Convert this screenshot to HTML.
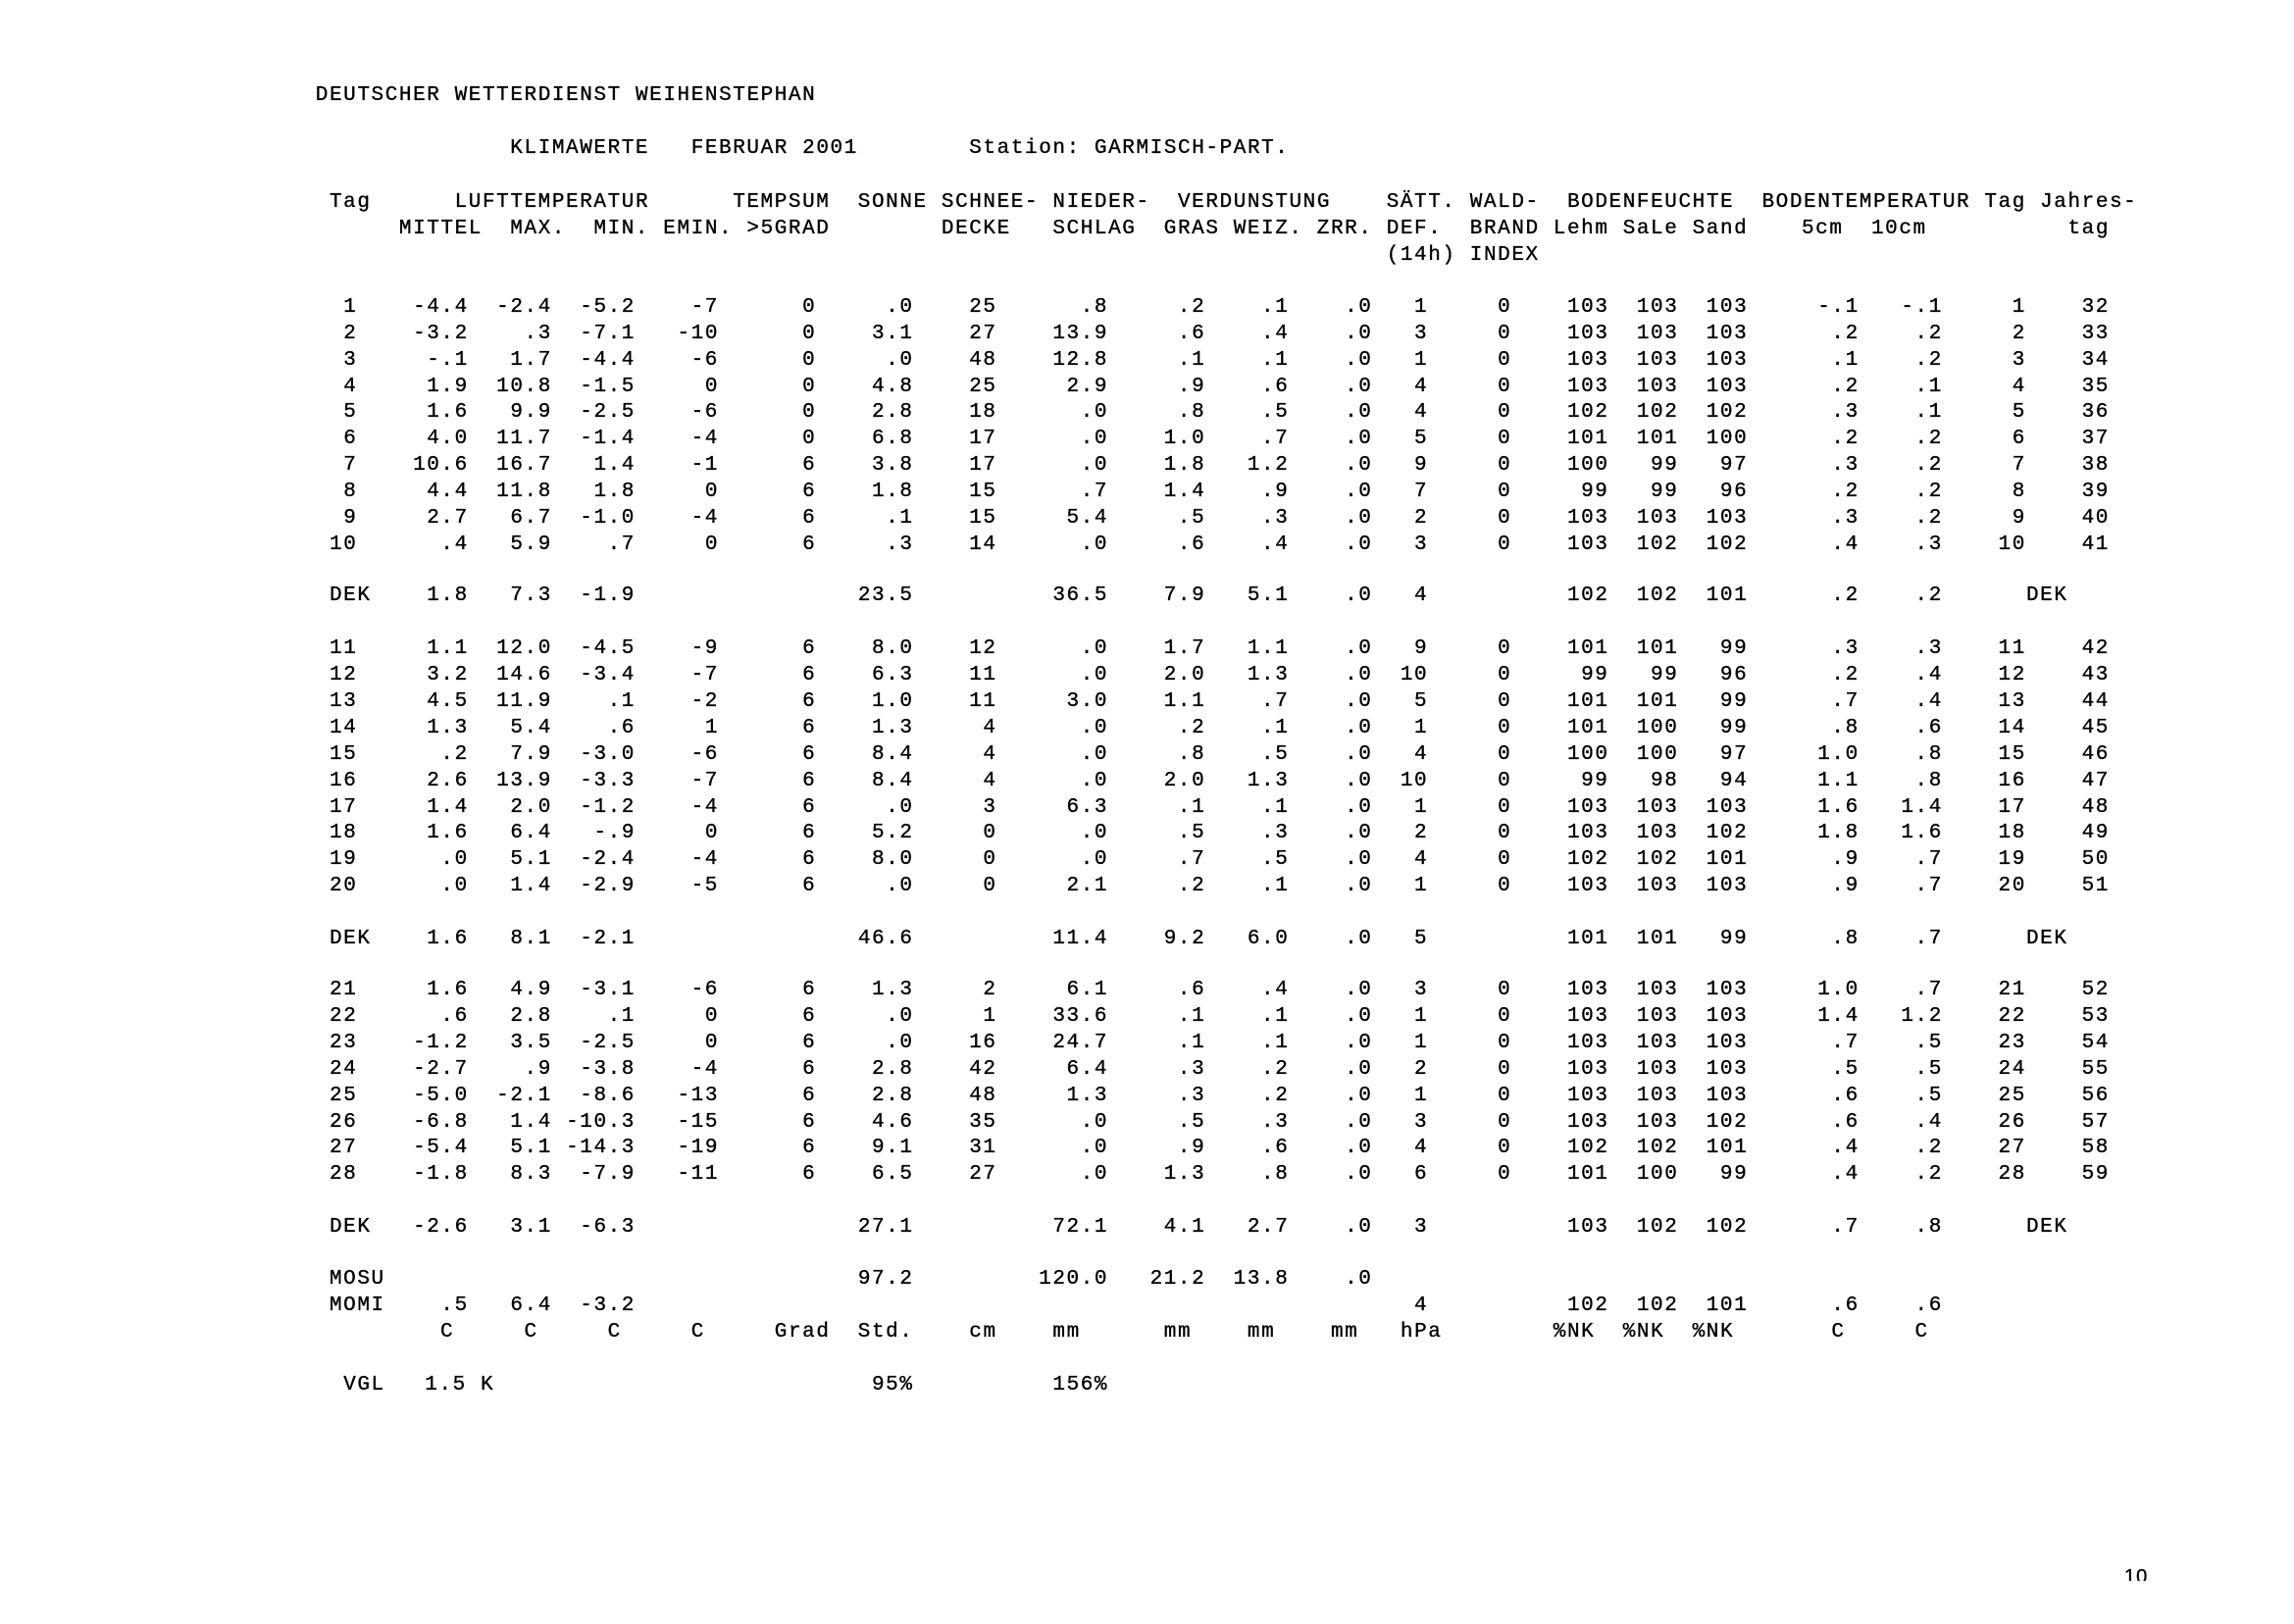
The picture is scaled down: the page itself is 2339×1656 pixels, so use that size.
<!DOCTYPE html>
<html><head><meta charset="utf-8"><style>
html,body{margin:0;padding:0;background:#fff}
#p{position:relative;width:2339px;height:1656px;overflow:hidden;background:#fff;color:#000;font-family:"Liberation Mono","DejaVu Sans Mono",monospace;font-size:21px;letter-spacing:1.58px;-webkit-text-stroke:0.35px #000}
.r{position:absolute;left:0;width:2339px;height:27px;line-height:27px}
.r span{position:absolute;top:0;white-space:pre;transform:translateX(-100%)}
.r span.s{transform:none}
.a{left:364.4px}.b{left:477.8px}.c{left:562.9px}.d{left:648px}.e{left:733px}.f{left:832.3px}.g{left:931.6px}.h{left:1016.6px}.i{left:1130.1px}.j{left:1229.3px}.k{left:1314.4px}.l{left:1399.5px}.m{left:1456.2px}.n{left:1541.3px}.o{left:1640.5px}.p{left:1711.4px}.q{left:1782.3px}.rr{left:1895.8px}.t{left:1980.9px}.u{left:2065.9px}.v{left:2151px}
</style></head><body><div id="p">
<div class="r" style="top:84px"><span class="s" style="left:321.8px">DEUTSCHER WETTERDIENST WEIHENSTEPHAN</span></div>
<div class="r" style="top:138px"><span class="s" style="left:520.3px">KLIMAWERTE</span><span class="s" style="left:704.7px">FEBRUAR 2001</span><span class="s" style="left:988.3px">Station: GARMISCH-PART.</span></div>
<div class="r" style="top:193px"><span class="s" style="left:336px">Tag</span><span class="s" style="left:463.6px">LUFTTEMPERATUR</span><span class="s" style="left:747.2px">TEMPSUM</span><span class="s" style="left:874.8px">SONNE</span><span class="s" style="left:959.9px">SCHNEE-</span><span class="s" style="left:1073.4px">NIEDER-</span><span class="s" style="left:1201px">VERDUNSTUNG</span><span class="s" style="left:1413.7px">SÄTT.</span><span class="s" style="left:1498.8px">WALD-</span><span class="s" style="left:1598px">BODENFEUCHTE</span><span class="s" style="left:1796.5px">BODENTEMPERATUR</span><span class="s" style="left:2023.4px">Tag</span><span class="s" style="left:2080.1px">Jahres-</span></div>
<div class="r" style="top:220px"><span class="s" style="left:406.9px">MITTEL</span><span class="s" style="left:520.3px">MAX.</span><span class="s" style="left:605.4px">MIN.</span><span class="s" style="left:676.3px">EMIN.</span><span class="s" style="left:761.4px">&gt;5GRAD</span><span class="s" style="left:959.9px">DECKE</span><span class="s" style="left:1073.4px">SCHLAG</span><span class="s" style="left:1186.8px">GRAS</span><span class="s" style="left:1257.7px">WEIZ.</span><span class="s" style="left:1342.8px">ZRR.</span><span class="s" style="left:1413.7px">DEF.</span><span class="s" style="left:1498.8px">BRAND</span><span class="s" style="left:1583.8px">Lehm</span><span class="s" style="left:1654.7px">SaLe</span><span class="s" style="left:1725.6px">Sand</span><span class="s" style="left:1837px">5cm</span><span class="s" style="left:1908px">10cm</span><span class="s" style="left:2108.5px">tag</span></div>
<div class="r" style="top:247px"><span class="s" style="left:1413.7px">(14h)</span><span class="s" style="left:1498.8px">INDEX</span></div>

<div class="r" style="top:300px"><span class="a">1</span><span class="b">-4.4</span><span class="c">-2.4</span><span class="d">-5.2</span><span class="e">-7</span><span class="f">0</span><span class="g">.0</span><span class="h">25</span><span class="i">.8</span><span class="j">.2</span><span class="k">.1</span><span class="l">.0</span><span class="m">1</span><span class="n">0</span><span class="o">103</span><span class="p">103</span><span class="q">103</span><span class="rr">-.1</span><span class="t">-.1</span><span class="u">1</span><span class="v">32</span></div>
<div class="r" style="top:327px"><span class="a">2</span><span class="b">-3.2</span><span class="c">.3</span><span class="d">-7.1</span><span class="e">-10</span><span class="f">0</span><span class="g">3.1</span><span class="h">27</span><span class="i">13.9</span><span class="j">.6</span><span class="k">.4</span><span class="l">.0</span><span class="m">3</span><span class="n">0</span><span class="o">103</span><span class="p">103</span><span class="q">103</span><span class="rr">.2</span><span class="t">.2</span><span class="u">2</span><span class="v">33</span></div>
<div class="r" style="top:354px"><span class="a">3</span><span class="b">-.1</span><span class="c">1.7</span><span class="d">-4.4</span><span class="e">-6</span><span class="f">0</span><span class="g">.0</span><span class="h">48</span><span class="i">12.8</span><span class="j">.1</span><span class="k">.1</span><span class="l">.0</span><span class="m">1</span><span class="n">0</span><span class="o">103</span><span class="p">103</span><span class="q">103</span><span class="rr">.1</span><span class="t">.2</span><span class="u">3</span><span class="v">34</span></div>
<div class="r" style="top:381px"><span class="a">4</span><span class="b">1.9</span><span class="c">10.8</span><span class="d">-1.5</span><span class="e">0</span><span class="f">0</span><span class="g">4.8</span><span class="h">25</span><span class="i">2.9</span><span class="j">.9</span><span class="k">.6</span><span class="l">.0</span><span class="m">4</span><span class="n">0</span><span class="o">103</span><span class="p">103</span><span class="q">103</span><span class="rr">.2</span><span class="t">.1</span><span class="u">4</span><span class="v">35</span></div>
<div class="r" style="top:407px"><span class="a">5</span><span class="b">1.6</span><span class="c">9.9</span><span class="d">-2.5</span><span class="e">-6</span><span class="f">0</span><span class="g">2.8</span><span class="h">18</span><span class="i">.0</span><span class="j">.8</span><span class="k">.5</span><span class="l">.0</span><span class="m">4</span><span class="n">0</span><span class="o">102</span><span class="p">102</span><span class="q">102</span><span class="rr">.3</span><span class="t">.1</span><span class="u">5</span><span class="v">36</span></div>
<div class="r" style="top:434px"><span class="a">6</span><span class="b">4.0</span><span class="c">11.7</span><span class="d">-1.4</span><span class="e">-4</span><span class="f">0</span><span class="g">6.8</span><span class="h">17</span><span class="i">.0</span><span class="j">1.0</span><span class="k">.7</span><span class="l">.0</span><span class="m">5</span><span class="n">0</span><span class="o">101</span><span class="p">101</span><span class="q">100</span><span class="rr">.2</span><span class="t">.2</span><span class="u">6</span><span class="v">37</span></div>
<div class="r" style="top:461px"><span class="a">7</span><span class="b">10.6</span><span class="c">16.7</span><span class="d">1.4</span><span class="e">-1</span><span class="f">6</span><span class="g">3.8</span><span class="h">17</span><span class="i">.0</span><span class="j">1.8</span><span class="k">1.2</span><span class="l">.0</span><span class="m">9</span><span class="n">0</span><span class="o">100</span><span class="p">99</span><span class="q">97</span><span class="rr">.3</span><span class="t">.2</span><span class="u">7</span><span class="v">38</span></div>
<div class="r" style="top:488px"><span class="a">8</span><span class="b">4.4</span><span class="c">11.8</span><span class="d">1.8</span><span class="e">0</span><span class="f">6</span><span class="g">1.8</span><span class="h">15</span><span class="i">.7</span><span class="j">1.4</span><span class="k">.9</span><span class="l">.0</span><span class="m">7</span><span class="n">0</span><span class="o">99</span><span class="p">99</span><span class="q">96</span><span class="rr">.2</span><span class="t">.2</span><span class="u">8</span><span class="v">39</span></div>
<div class="r" style="top:515px"><span class="a">9</span><span class="b">2.7</span><span class="c">6.7</span><span class="d">-1.0</span><span class="e">-4</span><span class="f">6</span><span class="g">.1</span><span class="h">15</span><span class="i">5.4</span><span class="j">.5</span><span class="k">.3</span><span class="l">.0</span><span class="m">2</span><span class="n">0</span><span class="o">103</span><span class="p">103</span><span class="q">103</span><span class="rr">.3</span><span class="t">.2</span><span class="u">9</span><span class="v">40</span></div>
<div class="r" style="top:542px"><span class="a">10</span><span class="b">.4</span><span class="c">5.9</span><span class="d">.7</span><span class="e">0</span><span class="f">6</span><span class="g">.3</span><span class="h">14</span><span class="i">.0</span><span class="j">.6</span><span class="k">.4</span><span class="l">.0</span><span class="m">3</span><span class="n">0</span><span class="o">103</span><span class="p">102</span><span class="q">102</span><span class="rr">.4</span><span class="t">.3</span><span class="u">10</span><span class="v">41</span></div>
<div class="r" style="top:594px"><span class="s" style="left:336px">DEK</span><span class="b">1.8</span><span class="c">7.3</span><span class="d">-1.9</span><span class="g">23.5</span><span class="i">36.5</span><span class="j">7.9</span><span class="k">5.1</span><span class="l">.0</span><span class="m">4</span><span class="o">102</span><span class="p">102</span><span class="q">101</span><span class="rr">.2</span><span class="t">.2</span><span class="s" style="left:2066px">DEK</span></div>

<div class="r" style="top:648px"><span class="a">11</span><span class="b">1.1</span><span class="c">12.0</span><span class="d">-4.5</span><span class="e">-9</span><span class="f">6</span><span class="g">8.0</span><span class="h">12</span><span class="i">.0</span><span class="j">1.7</span><span class="k">1.1</span><span class="l">.0</span><span class="m">9</span><span class="n">0</span><span class="o">101</span><span class="p">101</span><span class="q">99</span><span class="rr">.3</span><span class="t">.3</span><span class="u">11</span><span class="v">42</span></div>
<div class="r" style="top:675px"><span class="a">12</span><span class="b">3.2</span><span class="c">14.6</span><span class="d">-3.4</span><span class="e">-7</span><span class="f">6</span><span class="g">6.3</span><span class="h">11</span><span class="i">.0</span><span class="j">2.0</span><span class="k">1.3</span><span class="l">.0</span><span class="m">10</span><span class="n">0</span><span class="o">99</span><span class="p">99</span><span class="q">96</span><span class="rr">.2</span><span class="t">.4</span><span class="u">12</span><span class="v">43</span></div>
<div class="r" style="top:702px"><span class="a">13</span><span class="b">4.5</span><span class="c">11.9</span><span class="d">.1</span><span class="e">-2</span><span class="f">6</span><span class="g">1.0</span><span class="h">11</span><span class="i">3.0</span><span class="j">1.1</span><span class="k">.7</span><span class="l">.0</span><span class="m">5</span><span class="n">0</span><span class="o">101</span><span class="p">101</span><span class="q">99</span><span class="rr">.7</span><span class="t">.4</span><span class="u">13</span><span class="v">44</span></div>
<div class="r" style="top:729px"><span class="a">14</span><span class="b">1.3</span><span class="c">5.4</span><span class="d">.6</span><span class="e">1</span><span class="f">6</span><span class="g">1.3</span><span class="h">4</span><span class="i">.0</span><span class="j">.2</span><span class="k">.1</span><span class="l">.0</span><span class="m">1</span><span class="n">0</span><span class="o">101</span><span class="p">100</span><span class="q">99</span><span class="rr">.8</span><span class="t">.6</span><span class="u">14</span><span class="v">45</span></div>
<div class="r" style="top:756px"><span class="a">15</span><span class="b">.2</span><span class="c">7.9</span><span class="d">-3.0</span><span class="e">-6</span><span class="f">6</span><span class="g">8.4</span><span class="h">4</span><span class="i">.0</span><span class="j">.8</span><span class="k">.5</span><span class="l">.0</span><span class="m">4</span><span class="n">0</span><span class="o">100</span><span class="p">100</span><span class="q">97</span><span class="rr">1.0</span><span class="t">.8</span><span class="u">15</span><span class="v">46</span></div>
<div class="r" style="top:783px"><span class="a">16</span><span class="b">2.6</span><span class="c">13.9</span><span class="d">-3.3</span><span class="e">-7</span><span class="f">6</span><span class="g">8.4</span><span class="h">4</span><span class="i">.0</span><span class="j">2.0</span><span class="k">1.3</span><span class="l">.0</span><span class="m">10</span><span class="n">0</span><span class="o">99</span><span class="p">98</span><span class="q">94</span><span class="rr">1.1</span><span class="t">.8</span><span class="u">16</span><span class="v">47</span></div>
<div class="r" style="top:810px"><span class="a">17</span><span class="b">1.4</span><span class="c">2.0</span><span class="d">-1.2</span><span class="e">-4</span><span class="f">6</span><span class="g">.0</span><span class="h">3</span><span class="i">6.3</span><span class="j">.1</span><span class="k">.1</span><span class="l">.0</span><span class="m">1</span><span class="n">0</span><span class="o">103</span><span class="p">103</span><span class="q">103</span><span class="rr">1.6</span><span class="t">1.4</span><span class="u">17</span><span class="v">48</span></div>
<div class="r" style="top:836px"><span class="a">18</span><span class="b">1.6</span><span class="c">6.4</span><span class="d">-.9</span><span class="e">0</span><span class="f">6</span><span class="g">5.2</span><span class="h">0</span><span class="i">.0</span><span class="j">.5</span><span class="k">.3</span><span class="l">.0</span><span class="m">2</span><span class="n">0</span><span class="o">103</span><span class="p">103</span><span class="q">102</span><span class="rr">1.8</span><span class="t">1.6</span><span class="u">18</span><span class="v">49</span></div>
<div class="r" style="top:863px"><span class="a">19</span><span class="b">.0</span><span class="c">5.1</span><span class="d">-2.4</span><span class="e">-4</span><span class="f">6</span><span class="g">8.0</span><span class="h">0</span><span class="i">.0</span><span class="j">.7</span><span class="k">.5</span><span class="l">.0</span><span class="m">4</span><span class="n">0</span><span class="o">102</span><span class="p">102</span><span class="q">101</span><span class="rr">.9</span><span class="t">.7</span><span class="u">19</span><span class="v">50</span></div>
<div class="r" style="top:890px"><span class="a">20</span><span class="b">.0</span><span class="c">1.4</span><span class="d">-2.9</span><span class="e">-5</span><span class="f">6</span><span class="g">.0</span><span class="h">0</span><span class="i">2.1</span><span class="j">.2</span><span class="k">.1</span><span class="l">.0</span><span class="m">1</span><span class="n">0</span><span class="o">103</span><span class="p">103</span><span class="q">103</span><span class="rr">.9</span><span class="t">.7</span><span class="u">20</span><span class="v">51</span></div>
<div class="r" style="top:944px"><span class="s" style="left:336px">DEK</span><span class="b">1.6</span><span class="c">8.1</span><span class="d">-2.1</span><span class="g">46.6</span><span class="i">11.4</span><span class="j">9.2</span><span class="k">6.0</span><span class="l">.0</span><span class="m">5</span><span class="o">101</span><span class="p">101</span><span class="q">99</span><span class="rr">.8</span><span class="t">.7</span><span class="s" style="left:2066px">DEK</span></div>

<div class="r" style="top:996px"><span class="a">21</span><span class="b">1.6</span><span class="c">4.9</span><span class="d">-3.1</span><span class="e">-6</span><span class="f">6</span><span class="g">1.3</span><span class="h">2</span><span class="i">6.1</span><span class="j">.6</span><span class="k">.4</span><span class="l">.0</span><span class="m">3</span><span class="n">0</span><span class="o">103</span><span class="p">103</span><span class="q">103</span><span class="rr">1.0</span><span class="t">.7</span><span class="u">21</span><span class="v">52</span></div>
<div class="r" style="top:1023px"><span class="a">22</span><span class="b">.6</span><span class="c">2.8</span><span class="d">.1</span><span class="e">0</span><span class="f">6</span><span class="g">.0</span><span class="h">1</span><span class="i">33.6</span><span class="j">.1</span><span class="k">.1</span><span class="l">.0</span><span class="m">1</span><span class="n">0</span><span class="o">103</span><span class="p">103</span><span class="q">103</span><span class="rr">1.4</span><span class="t">1.2</span><span class="u">22</span><span class="v">53</span></div>
<div class="r" style="top:1050px"><span class="a">23</span><span class="b">-1.2</span><span class="c">3.5</span><span class="d">-2.5</span><span class="e">0</span><span class="f">6</span><span class="g">.0</span><span class="h">16</span><span class="i">24.7</span><span class="j">.1</span><span class="k">.1</span><span class="l">.0</span><span class="m">1</span><span class="n">0</span><span class="o">103</span><span class="p">103</span><span class="q">103</span><span class="rr">.7</span><span class="t">.5</span><span class="u">23</span><span class="v">54</span></div>
<div class="r" style="top:1077px"><span class="a">24</span><span class="b">-2.7</span><span class="c">.9</span><span class="d">-3.8</span><span class="e">-4</span><span class="f">6</span><span class="g">2.8</span><span class="h">42</span><span class="i">6.4</span><span class="j">.3</span><span class="k">.2</span><span class="l">.0</span><span class="m">2</span><span class="n">0</span><span class="o">103</span><span class="p">103</span><span class="q">103</span><span class="rr">.5</span><span class="t">.5</span><span class="u">24</span><span class="v">55</span></div>
<div class="r" style="top:1104px"><span class="a">25</span><span class="b">-5.0</span><span class="c">-2.1</span><span class="d">-8.6</span><span class="e">-13</span><span class="f">6</span><span class="g">2.8</span><span class="h">48</span><span class="i">1.3</span><span class="j">.3</span><span class="k">.2</span><span class="l">.0</span><span class="m">1</span><span class="n">0</span><span class="o">103</span><span class="p">103</span><span class="q">103</span><span class="rr">.6</span><span class="t">.5</span><span class="u">25</span><span class="v">56</span></div>
<div class="r" style="top:1131px"><span class="a">26</span><span class="b">-6.8</span><span class="c">1.4</span><span class="d">-10.3</span><span class="e">-15</span><span class="f">6</span><span class="g">4.6</span><span class="h">35</span><span class="i">.0</span><span class="j">.5</span><span class="k">.3</span><span class="l">.0</span><span class="m">3</span><span class="n">0</span><span class="o">103</span><span class="p">103</span><span class="q">102</span><span class="rr">.6</span><span class="t">.4</span><span class="u">26</span><span class="v">57</span></div>
<div class="r" style="top:1157px"><span class="a">27</span><span class="b">-5.4</span><span class="c">5.1</span><span class="d">-14.3</span><span class="e">-19</span><span class="f">6</span><span class="g">9.1</span><span class="h">31</span><span class="i">.0</span><span class="j">.9</span><span class="k">.6</span><span class="l">.0</span><span class="m">4</span><span class="n">0</span><span class="o">102</span><span class="p">102</span><span class="q">101</span><span class="rr">.4</span><span class="t">.2</span><span class="u">27</span><span class="v">58</span></div>
<div class="r" style="top:1184px"><span class="a">28</span><span class="b">-1.8</span><span class="c">8.3</span><span class="d">-7.9</span><span class="e">-11</span><span class="f">6</span><span class="g">6.5</span><span class="h">27</span><span class="i">.0</span><span class="j">1.3</span><span class="k">.8</span><span class="l">.0</span><span class="m">6</span><span class="n">0</span><span class="o">101</span><span class="p">100</span><span class="q">99</span><span class="rr">.4</span><span class="t">.2</span><span class="u">28</span><span class="v">59</span></div>
<div class="r" style="top:1238px"><span class="s" style="left:336px">DEK</span><span class="b">-2.6</span><span class="c">3.1</span><span class="d">-6.3</span><span class="g">27.1</span><span class="i">72.1</span><span class="j">4.1</span><span class="k">2.7</span><span class="l">.0</span><span class="m">3</span><span class="o">103</span><span class="p">102</span><span class="q">102</span><span class="rr">.7</span><span class="t">.8</span><span class="s" style="left:2066px">DEK</span></div>

<div class="r" style="top:1291px"><span class="s" style="left:336px">MOSU</span><span class="g">97.2</span><span class="i">120.0</span><span class="j">21.2</span><span class="k">13.8</span><span class="l">.0</span></div>
<div class="r" style="top:1318px"><span class="s" style="left:336px">MOMI</span><span class="b">.5</span><span class="c">6.4</span><span class="d">-3.2</span><span class="m">4</span><span class="o">102</span><span class="p">102</span><span class="q">101</span><span class="rr">.6</span><span class="t">.6</span></div>
<div class="r" style="top:1345px"><span class="s" style="left:449px">C</span><span class="s" style="left:534.5px">C</span><span class="s" style="left:619.6px">C</span><span class="s" style="left:704.7px">C</span><span class="s" style="left:789.8px">Grad</span><span class="s" style="left:874.8px">Std.</span><span class="s" style="left:988.3px">cm</span><span class="s" style="left:1073.4px">mm</span><span class="s" style="left:1186.8px">mm</span><span class="s" style="left:1271.9px">mm</span><span class="s" style="left:1357px">mm</span><span class="s" style="left:1427.9px">hPa</span><span class="s" style="left:1583.8px">%NK</span><span class="s" style="left:1654.7px">%NK</span><span class="s" style="left:1725.6px">%NK</span><span class="s" style="left:1867.4px">C</span><span class="s" style="left:1952.5px">C</span></div>
<div class="r" style="top:1399px"><span class="s" style="left:350.2px">VGL</span><span class="s" style="left:433.3px">1.5 K</span><span class="s" style="left:889px">95%</span><span class="s" style="left:1073.4px">156%</span></div>
<div style="position:absolute;left:2166px;top:1598px;height:14px;overflow:hidden;font-family:'Liberation Sans',sans-serif;font-size:20px;line-height:20px;letter-spacing:1px">10</div>
</div></body></html>
